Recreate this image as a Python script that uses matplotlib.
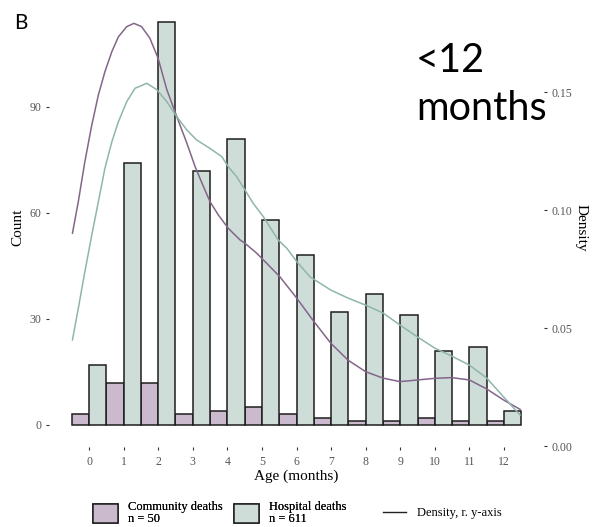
import matplotlib
matplotlib.use("Agg")
import matplotlib.pyplot as plt
from matplotlib.patches import Patch
from matplotlib.lines import Line2D
import numpy as np

# ---------------- data ----------------
months = [0, 1, 2, 3, 4, 5, 6, 7, 8, 9, 10, 11, 12]
community_counts = [3, 12, 12, 3, 4, 5, 3, 2, 1, 1, 2, 1, 1]
hospital_counts = [17, 74, 114, 72, 81, 58, 48, 32, 37, 31, 21, 22, 4]

community_dens_x = [-0.48, -0.31, -0.12, 0.08, 0.27, 0.46, 0.66, 0.85, 1.09, 1.30,
                    1.52, 1.76, 2.00, 2.25, 2.54, 2.83, 3.07, 3.31, 3.50, 3.74,
                    4.03, 4.37, 4.51, 4.85, 5.14, 5.52, 6.00, 6.20, 6.47, 6.99,
                    7.49, 8.00, 8.50, 8.99, 9.50, 10.00, 10.49, 11.00, 11.50, 11.99,
                    12.47]
community_dens_y = [0.0901, 0.1035, 0.1205, 0.1360, 0.1487, 0.1586, 0.1671, 0.1734,
                    0.1777, 0.1791, 0.1777, 0.1728, 0.1642, 0.1510, 0.1395, 0.1283,
                    0.1183, 0.1099, 0.1035, 0.0979, 0.0922, 0.0873, 0.0859, 0.0817,
                    0.0774, 0.0717, 0.0628, 0.0588, 0.0534, 0.0436, 0.0364, 0.0315,
                    0.0288, 0.0273, 0.0280, 0.0287, 0.0290, 0.0280, 0.0242, 0.0195,
                    0.0155]

hospital_dens_x = [-0.48, -0.31, -0.12, 0.08, 0.27, 0.46, 0.66, 0.85, 1.09, 1.33,
                   1.48, 1.67, 1.96, 2.25, 2.54, 2.83, 3.11, 3.50, 3.84, 4.03,
                   4.27, 4.51, 4.75, 5.04, 5.47, 5.72, 6.01, 6.39, 6.99, 7.49,
                   8.00, 8.50, 8.99, 9.50, 10.00, 10.49, 11.00, 11.50, 11.99, 12.47]
hospital_dens_y = [0.0449, 0.0583, 0.0739, 0.0894, 0.1035, 0.1177, 0.1289, 0.1374,
                   0.1459, 0.1516, 0.1525, 0.1537, 0.1510, 0.1459, 0.1395, 0.1339,
                   0.1297, 0.1261, 0.1226, 0.1183, 0.1141, 0.1085, 0.1028, 0.0972,
                   0.0873, 0.0838, 0.0781, 0.0717, 0.0661, 0.0627, 0.0597, 0.0564,
                   0.0513, 0.0462, 0.0415, 0.0381, 0.0343, 0.0288, 0.0208, 0.0131]

count_ticks = [0, 30, 60, 90]
density_ticks = [0.00, 0.05, 0.10, 0.15]
legend_labels = ["Community deaths\nn = 50", "Hospital deaths\nn = 611", "Density, r. y-axis"]

# ---------------- style ----------------
C_FILL = "#cbb9cd"
H_FILL = "#cfddd8"
C_LINE = "#84658a"
H_LINE = "#8fb6aa"
EDGE = "#1e1e1e"
TICK_COL = "#555555"
SERIF = ["Liberation Serif", "DejaVu Serif"]
SANS = ["Lato", "DejaVu Sans"]

W, H = 595, 527
fig = plt.figure(figsize=(W / 100, H / 100), dpi=100)
fig.patch.set_facecolor("white")

left_px, right_px, top_px, bot_px = 49, 544, 8, 447
ax = fig.add_axes([left_px / W, 1 - bot_px / H, (right_px - left_px) / W, (bot_px - top_px) / H])
ax2 = ax.twinx()

x = np.array(months, dtype=float)
bw = 0.5
ax.bar(x - bw / 2, community_counts, width=bw, color=C_FILL, edgecolor=EDGE, linewidth=1.1, zorder=2)
ax.bar(x + bw / 2, hospital_counts, width=bw, color=H_FILL, edgecolor=EDGE, linewidth=1.1, zorder=2)

ax2.plot(community_dens_x, community_dens_y, color=C_LINE, lw=1.1, zorder=3,
         solid_joinstyle="round", solid_capstyle="round")
ax2.plot(hospital_dens_x, hospital_dens_y, color=H_LINE, lw=1.1, zorder=3,
         solid_joinstyle="round", solid_capstyle="round")

ax.set_xlim(-1.157, 13.157)
ax.set_ylim(-6.23, 118.0)
ax2.set_ylim(-0.0004, 0.1856)

for a in (ax, ax2):
    for s in a.spines.values():
        s.set_visible(False)
    a.set_facecolor("none")

ax.set_xticks(months)
ax.set_xticklabels([str(m) for m in months], fontsize=8.5, color=TICK_COL, family=SERIF)
ax.set_yticks(count_ticks)
ax.set_yticklabels([str(v) for v in count_ticks], fontsize=8.5, color=TICK_COL, family=SERIF)
ax.tick_params(axis="x", length=2.5, width=0.8, color="#333333", pad=4)
ax.tick_params(axis="y", length=2.5, width=0.8, color="#333333", pad=3)

ax2.set_yticks(density_ticks)
ax2.set_yticklabels([f"{v:.2f}" for v in density_ticks], fontsize=8.5, color=TICK_COL, family=SERIF)
ax2.tick_params(axis="y", length=2.5, width=0.8, color="#333333", pad=3)

ax.set_xlabel("Age (months)", fontsize=11, family=SERIF, labelpad=1)
ax.set_ylabel("Count", fontsize=11, family=SERIF, ha="center", va="center")
ax.yaxis.set_label_coords((18 - left_px) / (right_px - left_px), 0.5)
ax2.set_ylabel("Density", fontsize=11, family=SERIF, rotation=-90, ha="center", va="center")
ax2.yaxis.set_label_coords((581 - left_px) / (right_px - left_px), 0.5)

ax.set_zorder(1)
ax2.set_zorder(2)

# panel letter and annotation
fig.text(14 / W, 1 - 29 / H, "B", fontsize=15, family=SANS, ha="left", va="baseline")
fig.text(416 / W, 1 - 72 / H, "<12", fontsize=28.5, family=SANS, ha="left", va="baseline")
fig.text(416 / W, 1 - 120 / H, "months", fontsize=28.5, family=SANS, ha="left", va="baseline")

# legends
h1 = [Patch(facecolor=C_FILL, edgecolor=EDGE, linewidth=1.1),
      Patch(facecolor=H_FILL, edgecolor=EDGE, linewidth=1.1)]
leg1 = fig.legend(h1, legend_labels[:2], loc="center left", bbox_to_anchor=(93 / W, 1 - 513 / H),
                  ncol=2, frameon=False, prop={"family": SERIF, "size": 9},
                  handlelength=2.0, handleheight=2.0, handletextpad=0.8, columnspacing=0.9,
                  borderpad=0, borderaxespad=0)
for t in leg1.get_texts():
    t.set_linespacing(1.0)
fig.add_artist(leg1)
h2 = [Line2D([0], [0], color="#222222", lw=1.0)]
fig.legend(h2, legend_labels[2:], loc="center left", bbox_to_anchor=(383 / W, 1 - 513 / H),
           frameon=False, prop={"family": SERIF, "size": 9},
           handlelength=1.8, handletextpad=0.9, borderpad=0, borderaxespad=0)

fig.savefig("out.png", dpi=100, facecolor="white")
